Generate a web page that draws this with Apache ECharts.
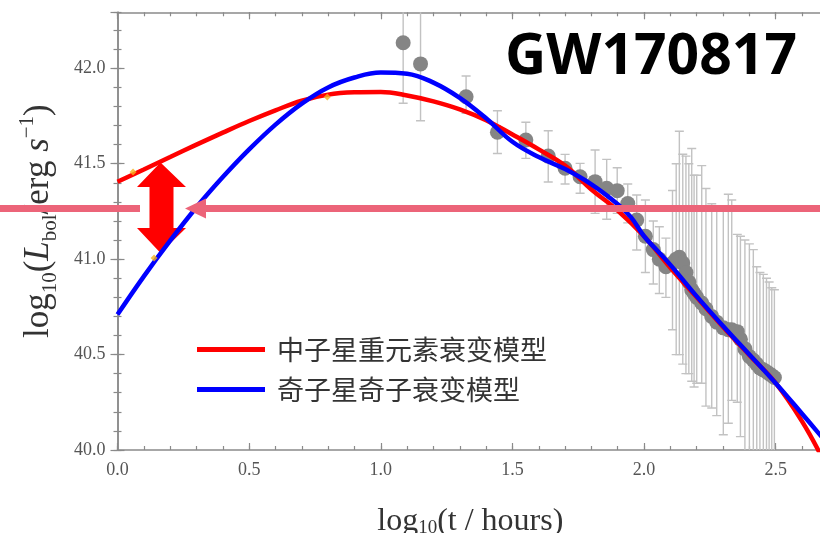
<!DOCTYPE html>
<html lang="zh">
<head>
    <meta charset="UTF-8">
    <title>GW170817 光变曲线</title>
    <script src="https://cdn.jsdelivr.net/npm/echarts@6/dist/echarts.min.js"></script>
    <style>
        html, body { margin: 0; padding: 0; background: #fff; }
        #main { width: 820px; height: 533px; }
    </style>
</head>
<body>
<div id="main"></div>
<script>
    // 观测数据：log10(t/hours), log10(L) 及误差上下限
    let obsX = [1.085, 1.151, 1.324, 1.443, 1.551, 1.636, 1.700, 1.757, 1.814, 1.858, 1.898, 1.938, 1.972, 2.005, 2.035,
        2.058, 2.083, 2.108, 2.122, 2.134, 2.147, 2.159, 2.170, 2.181, 2.190, 2.200, 2.219, 2.235, 2.257, 2.276,
        2.301, 2.320, 2.333, 2.354, 2.366, 2.383, 2.400, 2.415, 2.428, 2.440, 2.453, 2.465, 2.475, 2.485, 2.495];
    let obsY = [42.134, 42.023, 41.851, 41.665, 41.624, 41.540, 41.476, 41.432, 41.406, 41.371, 41.359, 41.292, 41.205, 41.120, 41.050,
        41.000, 40.960, 40.980, 41.000, 41.010, 40.980, 40.930, 40.880, 40.840, 40.820, 40.800, 40.770, 40.740, 40.700, 40.670,
        40.640, 40.630, 40.630, 40.620, 40.580, 40.530, 40.490, 40.470, 40.450, 40.430, 40.420, 40.410, 40.400, 40.390, 40.380];
    let obsHigh = [42.45, 42.32, 41.96, 41.778, 41.717, 41.673, 41.549, 41.502, 41.572, 41.523, 41.479, 41.394, 41.336, 41.31, 41.20,
        41.17, 41.11, 41.36, 41.50, 41.67, 41.55, 41.54, 41.50, 41.58, 41.44, 41.44, 41.49, 41.37, 41.29, 41.28,
        41.28, 41.34, 41.31, 41.13, 41.12, 41.10, 41.08, 41.05, 40.96, 40.93, 40.92, 40.90, 40.88, 40.85, 40.84];
    let obsLow = [41.817, 41.725, 41.764, 41.554, 41.528, 41.404, 41.394, 41.345, 41.240, 41.209, 41.24, 41.19, 41.048, 40.93, 40.87,
        40.82, 40.80, 40.63, 40.50, 40.50, 40.45, 40.40, 40.40, 40.36, 40.33, 40.35, 40.35, 40.23, 40.22, 40.18,
        40.08, 40.14, 40.26, 40.25, 40.07, 39.90, 39.90, 39.90, 39.90, 39.90, 39.90, 39.90, 39.90, 39.90, 39.90];

    // 中子星重元素衰变模型
    let redX = [0, 0.1, 0.2, 0.3, 0.4, 0.5, 0.6, 0.7, 0.8, 0.9, 1.0, 1.1, 1.2, 1.3, 1.4, 1.5, 1.6, 1.7,
        1.8, 1.9, 2.0, 2.1, 2.2, 2.3, 2.4, 2.5, 2.6, 2.68];
    let redY = [41.406, 41.470, 41.535, 41.600, 41.663, 41.724, 41.780, 41.830, 41.862, 41.874, 41.876, 41.858, 41.827, 41.785, 41.728, 41.653, 41.575, 41.490,
        41.365, 41.255, 41.120, 40.955, 40.800, 40.645, 40.497, 40.350, 40.150, 39.950];

    // 奇子星奇子衰变模型
    let blueX = [0, 0.1, 0.2, 0.3, 0.4, 0.5, 0.6, 0.7, 0.8, 0.9, 1.0, 1.1, 1.2, 1.3, 1.4, 1.5, 1.6, 1.7,
        1.8, 1.9, 1.95, 2.0, 2.05, 2.1, 2.2, 2.3, 2.4, 2.5, 2.6, 2.68];
    let blueY = [40.710, 40.910, 41.097, 41.272, 41.430, 41.575, 41.705, 41.815, 41.900, 41.952, 41.978, 41.972, 41.925, 41.845, 41.738, 41.615, 41.535, 41.472,
        41.392, 41.288, 41.220, 41.120, 41.045, 40.970, 40.805, 40.650, 40.500, 40.350, 40.190, 40.060];

    // 图上的小橙色标记
    let markX = [0.059, 0.139, 0.797];
    let markY = [41.457, 41.006, 41.85];

    let modelNames = ['中子星重元素衰变模型', '奇子星奇子衰变模型'];
    let xMin = 0, xMax = 2.68, xMajor = 0.5, xMinor = 0.1;
    let yMin = 40, yMax = 42.2935, yMajor = 0.5, yMinor = 0.1;

    let axisGray = '#8a8a8a';
    let serif = 'Liberation Serif';

    let pairs = (xs, ys) => xs.map((x, i) => [x, ys[i]]);

    // 误差棒
    function errorBar(params, api) {
        let x = api.value(0);
        let lo = api.coord([x, api.value(1)]);
        let hi = api.coord([x, api.value(2)]);
        let half = 4.5;
        let st = () => ({stroke: '#c2c2c2', lineWidth: 1.4});
        return {
            type: 'group',
            children: [
                {type: 'line', shape: {x1: lo[0], y1: lo[1], x2: hi[0], y2: hi[1]}, style: st()},
                {type: 'line', shape: {x1: lo[0] - half, y1: lo[1], x2: lo[0] + half, y2: lo[1]}, style: st()},
                {type: 'line', shape: {x1: hi[0] - half, y1: hi[1], x2: hi[0] + half, y2: hi[1]}, style: st()}
            ]
        };
    }

    // 坐标轴（主刻度 / 次刻度，四边都有）
    function xAxisOf(pos, interval, major) {
        return {
            type: 'value', position: pos, min: xMin, max: xMax, interval: interval,
            axisLine: {show: major, lineStyle: {color: axisGray, width: 1.5}},
            axisTick: {inside: true, length: major ? 7 : 4, lineStyle: {color: axisGray, width: 1.2}},
            axisLabel: {show: false},
            splitLine: {show: false}
        };
    }
    function yAxisOf(pos, interval, major) {
        return {
            type: 'value', position: pos, min: yMin, max: yMax, interval: interval,
            axisLine: {show: major, lineStyle: {color: axisGray, width: 1.5}},
            axisTick: {inside: true, length: major ? 7 : 4, lineStyle: {color: axisGray, width: 1.2}},
            axisLabel: {show: false},
            splitLine: {show: false}
        };
    }

    let xAxes = [xAxisOf('bottom', xMajor, true), xAxisOf('bottom', xMinor, false),
        xAxisOf('top', xMajor, true), xAxisOf('top', xMinor, false)];
    xAxes[0].axisLabel = {
        show: true, showMaxLabel: false, margin: 11, color: '#555', fontFamily: serif, fontSize: 18,
        formatter: v => v.toFixed(1)
    };
    xAxes[0].name = '{m|log}{sub|10}{m|(t / hours)}';
    xAxes[0].nameLocation = 'middle';
    xAxes[0].nameGap = 46;
    xAxes[0].nameTextStyle = {
        color: '#333', fontFamily: serif,
        rich: {
            m: {fontSize: 32, fontFamily: serif, color: '#333', lineHeight: 42, verticalAlign: 'bottom'},
            sub: {fontSize: 19, fontFamily: serif, color: '#333', lineHeight: 14, verticalAlign: 'bottom'}
        }
    };

    let yAxes = [yAxisOf('left', yMajor, true), yAxisOf('left', yMinor, false),
        yAxisOf('right', yMajor, true), yAxisOf('right', yMinor, false)];
    yAxes[0].axisLabel = {
        show: true, showMaxLabel: false, margin: 12, color: '#555', fontFamily: serif, fontSize: 18,
        formatter: v => v.toFixed(1)
    };
    yAxes[0].name = '{m|log}{sub|10}{m|(}{i|L}{sub|bol}{m|/erg }{i|s}{sup|\u22121}{m|)}';
    yAxes[0].nameLocation = 'middle';
    yAxes[0].nameRotate = 90;
    yAxes[0].nameGap = 57;
    yAxes[0].nameTextStyle = {
        color: '#333', fontFamily: serif, padding: [0, 0, 0, 20],
        rich: {
            m: {fontSize: 35, fontFamily: serif, color: '#333', lineHeight: 44},
            i: {fontSize: 35, fontFamily: serif, fontStyle: 'italic', color: '#333', lineHeight: 44},
            sub: {fontSize: 21, fontFamily: serif, color: '#333', lineHeight: 14, verticalAlign: 'bottom'},
            sup: {fontSize: 21, fontFamily: serif, color: '#333', lineHeight: 24, verticalAlign: 'top'}
        }
    };

    let mycharts = echarts.init(document.getElementById('main'));

    let options = {
        animation: false,
        grid: {left: 117.5, top: 12.3, width: 705.6, height: 437.7, containLabel: false, outerBoundsMode: 'none'},
        xAxis: xAxes,
        yAxis: yAxes,
        legend: {
            data: modelNames, orient: 'vertical', left: 197, top: 336, padding: 0,
            icon: 'rect', itemWidth: 68, itemHeight: 5, itemGap: 13,
            textStyle: {fontFamily: 'Noto Sans CJK SC', fontSize: 27, color: '#333', padding: [0, 0, 0, 7]}
        },
        series: [{
            type: 'custom', name: '误差', renderItem: errorBar, clip: true, silent: true, z: 1,
            encode: {x: 0, y: [1, 2]},
            data: obsX.map((x, i) => [x, obsLow[i], obsHigh[i]])
        }, {
            type: 'scatter', name: '观测', data: pairs(obsX, obsY), symbolSize: 15, z: 2,
            itemStyle: {color: '#858585', opacity: 1}
        }, {
            type: 'line', name: modelNames[0], data: pairs(redX, redY), smooth: 0.4,
            symbol: 'none', z: 3,
            itemStyle: {color: '#ff0000'}, lineStyle: {color: '#ff0000', width: 4.5}
        }, {
            type: 'line', name: modelNames[1], data: pairs(blueX, blueY), smooth: 0.4,
            symbol: 'none', z: 4,
            itemStyle: {color: '#0000ff'}, lineStyle: {color: '#0000ff', width: 4.5}
        }, {
            type: 'scatter', name: '标记', data: pairs(markX, markY), symbol: 'diamond', symbolSize: 7, z: 5,
            itemStyle: {color: '#f6b21b'}
        }],
        graphic: [
            // 标题
            {type: 'text', left: 505, top: 29, z: 20,
                style: {text: 'GW170817', font: 'bold 57px "Noto Sans", sans-serif', fill: '#000'}},
            // 红色双向箭头
            {type: 'polygon', z: 1,
                shape: {points: [[160.5, 162.5], [186, 187], [173.5, 187], [173.5, 228], [186, 228], [160.5, 253],
                        [137, 228], [149.5, 228], [149.5, 187], [137, 187]]},
                style: {fill: '#ff0000'}},
            // 粉色横线与箭头
            {type: 'rect', z: 10, shape: {x: 0, y: 205, width: 140, height: 7}, style: {fill: '#ec6479'}},
            {type: 'rect', z: 10, shape: {x: 204, y: 205, width: 620, height: 7}, style: {fill: '#ec6479'}},
            {type: 'polygon', z: 10, shape: {points: [[185, 208.5], [206, 198.5], [206, 218.5]]}, style: {fill: '#ec6479'}}
        ]
    };

    mycharts.setOption(options);
</script>
</body>
</html>
